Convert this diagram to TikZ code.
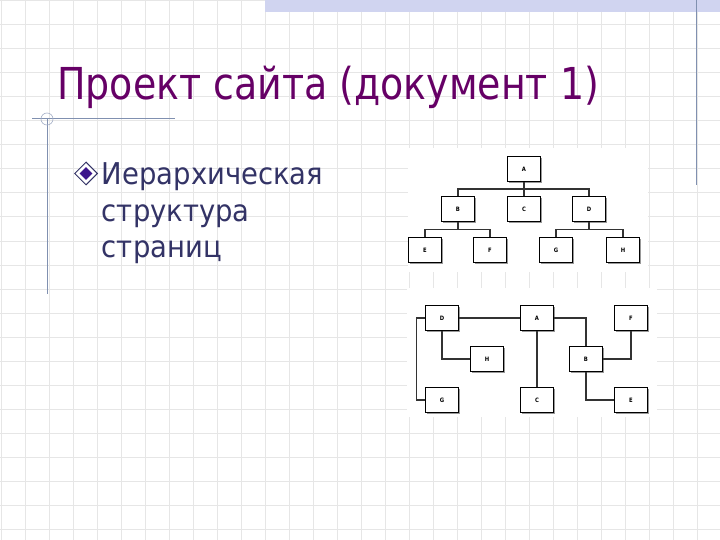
\documentclass[tikz,border=0pt]{standalone}
\usepackage{fontspec}
\setmainfont{DejaVu Sans}[FakeStretch=0.88]
\newfontfamily\titlefont{DejaVu Sans}[FakeStretch=0.862]
\newfontfamily\bodyfont{DejaVu Sans}[FakeStretch=0.915]
\usetikzlibrary{shadows,shapes.geometric}
\definecolor{titlepurple}{RGB}{102,0,102}
\definecolor{textnavy}{RGB}{51,51,102}
\definecolor{bulletviolet}{RGB}{60,20,140}
\definecolor{gridgray}{RGB}{230,230,230}
\definecolor{rulegray}{RGB}{128,144,176}
\definecolor{barblue}{RGB}{208,212,240}

\begin{document}
\begin{tikzpicture}[x=1pt,y=-1pt,
  page/.style={draw,line width=1.1pt,fill=white,minimum width=33pt,minimum height=25pt,inner sep=0pt,
    font=\bfseries\fontsize{6}{6}\selectfont,
    drop shadow={shadow xshift=1.8pt,shadow yshift=-1.8pt,opacity=1,fill=gray!80}},
  link/.style={line width=1.2pt,draw=black!80},
  bodytext/.style={anchor=base west,inner sep=0pt,text=textnavy,font=\bodyfont\fontsize{30}{30}\selectfont}]
  \useasboundingbox (0,0) rectangle (720,540);
  \fill[white] (0,0) rectangle (720,540);

  % slide grid
  \foreach \g in {1,25,...,721} {
    \draw[gridgray,line width=1pt] (\g,0) -- (\g,540);
    \draw[gridgray,line width=1pt] (0,\g) -- (720,\g);
  }
  \fill[barblue] (265,0) rectangle (720,12); % top bar
  \draw[rulegray,line width=1pt] (696.5,0) -- (696.5,185);
  \draw[rulegray,line width=1pt] (32,119) -- (175,119);
  \draw[rulegray,line width=1pt] (47,119) -- (47,294);
  \draw[rulegray!70,line width=0.6pt] (47,119) circle (6);

  % white areas behind the diagrams
  \fill[white] (408,148) rectangle (648,272);
  \fill[white] (407,288) rectangle (657,417);

  \node[anchor=base west,inner sep=0pt,text=titlepurple,font=\titlefont\fontsize{44}{44}\selectfont] (title) at (57,100) {Проект сайта (документ 1)};

  \node[diamond,draw=textnavy,line width=1pt,fill=white,minimum width=23pt,minimum height=23pt,inner sep=0pt] (bullet) at (86,173.5) {};
  \node[diamond,fill=bulletviolet,minimum width=13pt,minimum height=13pt,inner sep=0pt] (bulletin) at (bullet.center) {};
  \node[bodytext] (line1) at (101.7,185) {Иерархическая};
  \node[bodytext] (line2) at (101.7,221.7) {структура};
  \node[bodytext] (line3) at (101.7,258) {страниц};

  % tree of pages
  \node[page] (tA) at (524,169) {A};
  \node[page] (tB) at (458,209) {B};
  \node[page] (tC) at (524,209) {C};
  \node[page] (tD) at (589,209) {D};
  \node[page] (tE) at (425,250) {E};
  \node[page] (tF) at (490,250) {F};
  \node[page] (tG) at (556,250) {G};
  \node[page] (tH) at (623,250) {H};

  \draw[link] (tA.south) -- (tC.north);
  \draw[link] (tB.north) -- ++(0,-7) -| (tD.north);
  \draw[link] (tB.south) -- ++(0,7.6);
  \draw[link] (tE.north) -- ++(0,-7.7) -| (tF.north);
  \draw[link] (tD.south) -- ++(0,7.6);
  \draw[link] (tG.north) -- ++(0,-7.7) -| (tH.north);

  % the same pages as a web
  \node[page] (bD) at (442,318) {D};
  \node[page] (bA) at (537,318) {A};
  \node[page] (bF) at (631,318) {F};
  \node[page] (bH) at (487,359) {H};
  \node[page] (bB) at (586,359) {B};
  \node[page] (bG) at (442,400) {G};
  \node[page] (bC) at (537,400) {C};
  \node[page] (bE) at (631,400) {E};

  \draw[link] (bD.east) -- (bA.west);
  \draw[link] (bD.west) -- ++(-8.3,0) |- (bG.west);
  \draw[link] (bD.south) |- (bH.west);
  \draw[link] (bA.south) -- (bC.north);
  \draw[link] (bA.east) -| (bB.north);
  \draw[link] (bB.east) -| (bF.south);
  \draw[link] (bB.south) |- (bE.west);
\end{tikzpicture}
\end{document}
